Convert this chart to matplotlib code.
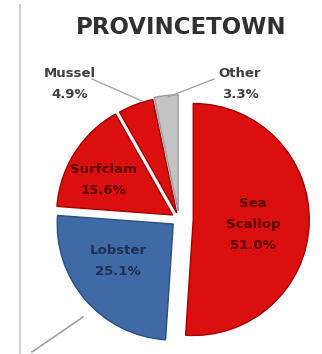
import matplotlib
matplotlib.use("Agg")
import matplotlib.pyplot as plt
from matplotlib.lines import Line2D

# landings share by species, clockwise from 12 o'clock
species = ["Sea\nScallop", "Lobster", "Surfclam", "Mussel", "Other"]
shares = [51.0, 25.1, 15.6, 4.9, 3.3]
colors = ["#dc0f0f", "#3f6aa6", "#dc0f0f", "#dc0f0f", "#c4c4c4"]
edges = ["#a30000", "#2b4f82", "#a30000", "#a30000", "#9a9a9a"]
explode = [0.123, 0.066, 0.065, 0.055, 0.07]
text_colors = ["#5c0000", "#1c2f55", "#5c0000", "#404040", "#404040"]

W, H = 322, 354
CX, CY, R = 179, 219, 116


def to_data(x, y):
    # pixel position -> pie units (radius 1 centred on the pie)
    return (x - CX) / R, (CY - y) / R


fig = plt.figure(figsize=(W / 100, H / 100), dpi=100)
ax = fig.add_axes([0, 0, 1, 1])

wedges, _ = ax.pie(shares, colors=colors, explode=explode, startangle=90,
                   counterclock=False, radius=1.0,
                   wedgeprops=dict(linewidth=1.0))
for w, ec in zip(wedges, edges):
    w.set_edgecolor(ec)

ax.set_xlim(-CX / R, (W - CX) / R)
ax.set_ylim(-(H - CY) / R, CY / R)
ax.set_aspect("auto")
ax.axis("off")

# labels inside the big slices
inside = {0: (253, 224), 1: (118, 261), 2: (103, 180)}
for i, (x, y) in inside.items():
    tx, ty = to_data(x, y)
    ax.text(tx, ty, "%s\n%.1f%%" % (species[i], shares[i]), ha="center",
            va="center", fontsize=9.5, fontweight="bold",
            color=text_colors[i], linespacing=1.8)

# small slices get outside labels with leader lines
outside = {3: ((70, 84), (92, 79), (142, 101)),
           4: ((240, 84), (214, 79), (168, 97))}
for i, (lab, p0, p1) in outside.items():
    tx, ty = to_data(*lab)
    ax.text(tx, ty, "%s\n%.1f%%" % (species[i], shares[i]), ha="center",
            va="center", fontsize=9.5, fontweight="bold",
            color=text_colors[i], linespacing=1.75)
    a, b = to_data(*p0), to_data(*p1)
    ax.plot([a[0], b[0]], [a[1], b[1]], color="#a6a6a6", lw=1.0)

fig.text(181 / W, 1 - 28 / H, "PROVINCETOWN", ha="center", va="center",
         fontsize=16.5, fontweight="bold", color="#303030")

# frame edge and a stray leader line from the neighbouring panel
fig.add_artist(Line2D([20 / W, 20 / W], [0, 1 - 5 / H], color="#c8c8c8", lw=1.2))
fig.add_artist(Line2D([32 / W, 83 / W], [1 - 352 / H, 1 - 317 / H],
                      color="#a0a0a0", lw=1.2))

fig.savefig("out.png", dpi=100, facecolor="white")
